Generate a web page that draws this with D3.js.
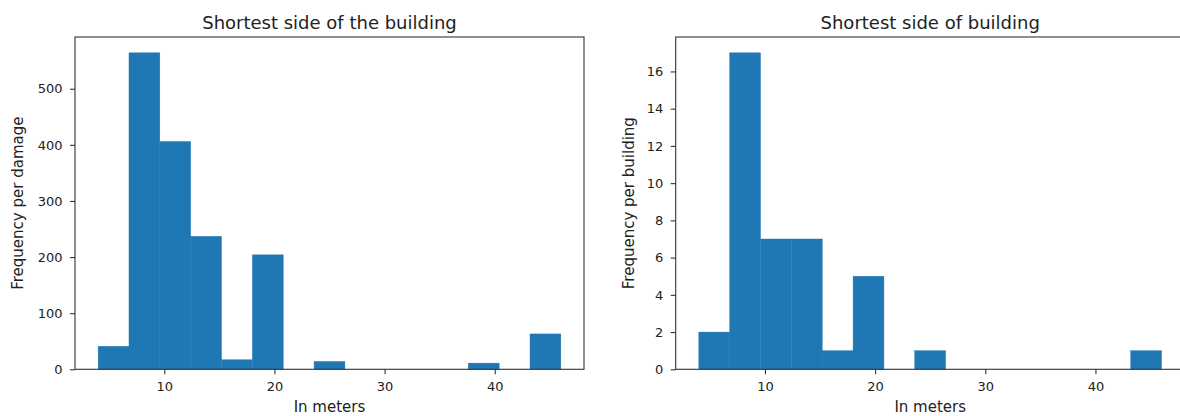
<!DOCTYPE html>
<html>
<head>
<meta charset="utf-8">
<script src="https://cdn.jsdelivr.net/npm/d3@7"></script>
<style>
  html, body { margin: 0; padding: 0; background: #fff; }
  svg { display: block; font-family: "DejaVu Sans", sans-serif; }
</style>
</head>
<body>
<svg id="chart" width="1180" height="416"></svg>
<script>
// ---- data ----
const binEdges = [4.0, 6.8, 9.6, 12.4, 15.2, 18.0, 20.8, 23.6, 26.4, 29.2, 32.0, 34.8, 37.6, 40.4, 43.2, 46.0];
const countsPerDamage = [41, 564, 406, 237, 17, 204, 0, 14, 0, 0, 0, 0, 11, 0, 63];
const countsPerBuilding = [2, 17, 7, 7, 1, 5, 0, 1, 0, 0, 0, 0, 0, 0, 1];
const xTicks = [10, 20, 30, 40];
const yTicksDamage = [0, 100, 200, 300, 400, 500];
const yTicksBuilding = [0, 2, 4, 6, 8, 10, 12, 14, 16];
const titles = ["Shortest side of the building", "Shortest side of building"];
const yLabels = ["Frequency per damage", "Frequency per building"];
const xLabel = "In meters";

const svg = d3.select("#chart");
const color = "#1f77b4";
const textColor = "#222";

function panel(opts) {
  const { left, top, width, height, counts, yTicks, title, yLabel, yLabelX } = opts;
  const x0 = binEdges[0], x1 = binEdges[binEdges.length - 1];
  const xm = (x1 - x0) * 0.05;
  const x = d3.scaleLinear().domain([x0 - xm, x1 + xm]).range([left, left + width]);
  const ymax = d3.max(counts) * 1.05;
  const y = d3.scaleLinear().domain([0, ymax]).range([top + height, top]);

  const g = svg.append("g");
  const bins = counts.map((c, i) => ({ x0: binEdges[i], x1: binEdges[i + 1], c }));
  g.selectAll("rect.bar").data(bins.filter(d => d.c > 0)).join("rect")
    .attr("class", "bar")
    .attr("x", d => x(d.x0))
    .attr("width", d => x(d.x1) - x(d.x0))
    .attr("y", d => y(d.c))
    .attr("height", d => y(0) - y(d.c))
    .attr("fill", color)
    .attr("stroke", color).attr("stroke-width", 0.4);

  // frame
  g.append("rect")
    .attr("x", left).attr("y", top).attr("width", width).attr("height", height)
    .attr("fill", "none").attr("stroke", "#333").attr("stroke-width", 1.1);

  const xAxis = d3.axisBottom(x).tickValues(xTicks).tickSize(5).tickPadding(7.5).tickFormat(d3.format("d"));
  const gx = g.append("g").attr("transform", `translate(0,${top + height})`).call(xAxis);
  gx.select(".domain").remove();
  gx.selectAll("line").attr("stroke", "#333").attr("stroke-width", 1.1);
  gx.selectAll("text").attr("font-size", 13).attr("fill", textColor).attr("font-family", "DejaVu Sans");

  const yAxis = d3.axisLeft(y).tickValues(yTicks).tickSize(5).tickPadding(7.5).tickFormat(d3.format("d"));
  const gy = g.append("g").attr("transform", `translate(${left},0)`).call(yAxis);
  gy.select(".domain").remove();
  gy.selectAll("line").attr("stroke", "#333").attr("stroke-width", 1.1);
  gy.selectAll("text").attr("font-size", 13).attr("fill", textColor).attr("font-family", "DejaVu Sans");

  g.append("text")
    .attr("x", left + width / 2).attr("y", top - 8)
    .attr("text-anchor", "middle").attr("font-size", 18).attr("fill", textColor)
    .text(title);

  g.append("text")
    .attr("x", left + width / 2).attr("y", top + height + 42.5)
    .attr("text-anchor", "middle").attr("font-size", 15).attr("fill", textColor)
    .text(xLabel);

  g.append("text")
    .attr("transform", `translate(${yLabelX},${top + height / 2}) rotate(-90)`)
    .attr("text-anchor", "middle").attr("font-size", 15).attr("fill", textColor)
    .text(yLabel);
}

panel({ left: 75, top: 37, width: 509, height: 332.3, counts: countsPerDamage, yTicks: yTicksDamage,
        title: titles[0], yLabel: yLabels[0], yLabelX: 23 });
panel({ left: 675.7, top: 37, width: 509, height: 332.3, counts: countsPerBuilding, yTicks: yTicksBuilding,
        title: titles[1], yLabel: yLabels[1], yLabelX: 634 });
</script>
</body>
</html>
